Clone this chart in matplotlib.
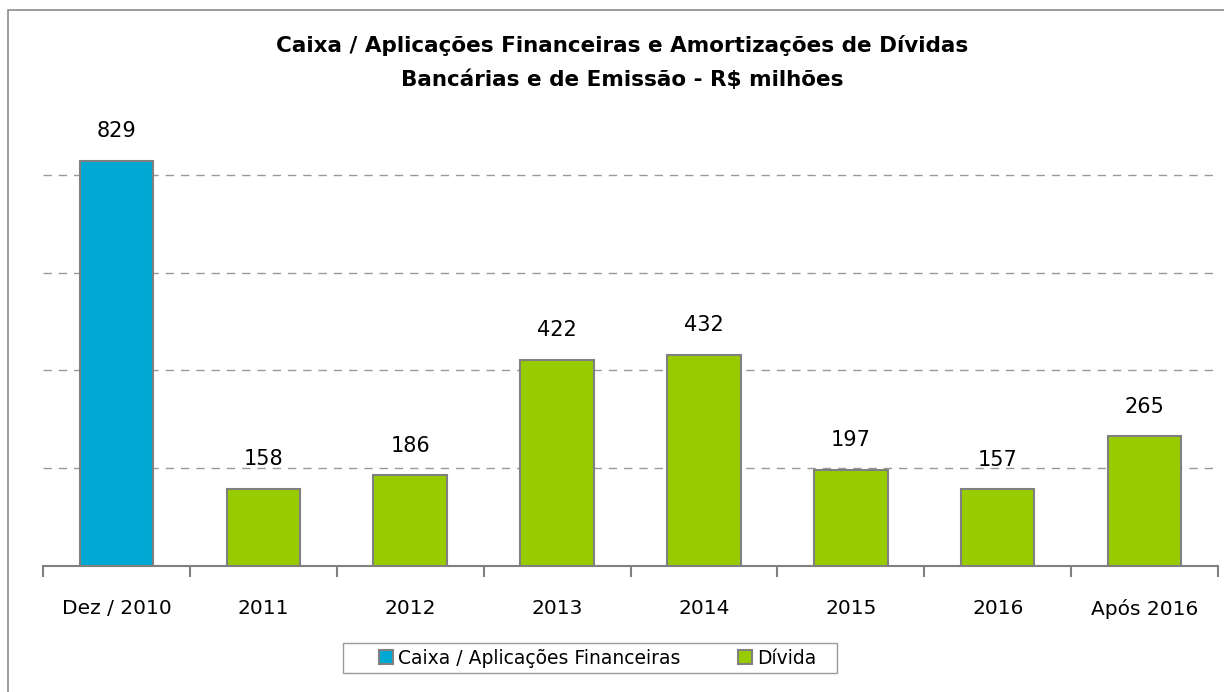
import matplotlib.pyplot as plt
from matplotlib.patches import Patch, Rectangle

plt.rcParams['font.family'] = ['DejaVu Sans']

categories = ['Dez / 2010', '2011', '2012', '2013', '2014', '2015', '2016', 'Após 2016']
values = [829, 158, 186, 422, 432, 197, 157, 265]
series = ['caixa', 'divida', 'divida', 'divida', 'divida', 'divida', 'divida', 'divida']
colors = {'caixa': '#00a9d4', 'divida': '#99cc00'}
legend_labels = {'caixa': 'Caixa / Aplicações Financeiras', 'divida': 'Dívida'}

W, H = 1224, 692
fig = plt.figure(figsize=(W / 100, H / 100), dpi=100)
# outer chart border (cut off at right and bottom like the source)
fig.patches.append(Rectangle((8 / W, -0.1), 1.2, 1 - 10 / H + 0.1, transform=fig.transFigure,
                             fill=False, edgecolor='#8c8c8c', linewidth=1.2))

ax = fig.add_axes([43 / W, 126 / H, (1218 - 43) / W, (566 - 126) / H])
x = range(len(categories))
ax.bar(x, values, width=0.5, color=[colors[s] for s in series],
       edgecolor='#808080', linewidth=1.5, zorder=3)
for xi, v in zip(x, values):
    ax.text(xi, v + 40, str(v), ha='center', va='bottom', fontsize=15)

ax.set_xlim(-0.5, len(categories) - 0.5)
ax.set_ylim(0, 900)
ax.set_yticks([200, 400, 600, 800])
ax.yaxis.grid(True, linestyle=(0, (6, 5)), color='#999999', linewidth=1)
ax.tick_params(axis='y', left=False, labelleft=False)
ax.set_xticks(x)
ax.set_xticklabels(categories, fontsize=14.5)
ax.set_xticks([i - 0.5 for i in range(len(categories) + 1)], minor=True)
ax.tick_params(axis='x', which='major', length=0, pad=24)
ax.tick_params(axis='x', which='minor', length=8, color='#808080', width=1.5, direction='out')
for s in ['top', 'right', 'left']:
    ax.spines[s].set_visible(False)
ax.spines['bottom'].set_color('#808080')
ax.spines['bottom'].set_linewidth(1.5)

fig.text(622 / W, 1 - 45 / H, 'Caixa / Aplicações Financeiras e Amortizações de Dívidas',
         ha='center', va='center', fontsize=15.5, fontweight='bold')
fig.text(622 / W, 1 - 80 / H, 'Bancárias e de Emissão - R$ milhões',
         ha='center', va='center', fontsize=15.5, fontweight='bold')

# legend box
fig.patches.append(Rectangle((343 / W, 1 - 673 / H), (837 - 343) / W, 30 / H,
                             transform=fig.transFigure, fill=False,
                             edgecolor='#999999', linewidth=1))
handles = [Patch(facecolor=colors[k], edgecolor='#808080', linewidth=1.5, label=legend_labels[k])
           for k in ['caixa', 'divida']]
fig.legend(handles=handles, loc='center left', bbox_to_anchor=(379 / W, 1 - 658 / H),
           ncol=2, fontsize=13.5, frameon=False, borderpad=0, borderaxespad=0,
           handlelength=0.75, handleheight=0.75, handletextpad=0.25, columnspacing=3.1)

fig.savefig('out.png', dpi=100)
